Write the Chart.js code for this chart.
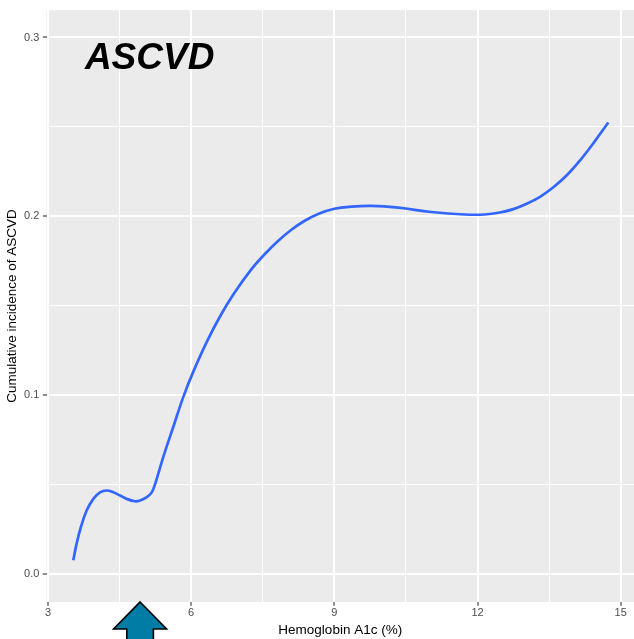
<!DOCTYPE html>
<html>
<head>
<meta charset="utf-8">
<script src="https://cdn.jsdelivr.net/npm/chart.js@4.4.1/dist/chart.umd.min.js"></script>
<style>
  body { margin: 0; background: #ffffff; }
  #wrap { width: 634px; height: 639px; position: relative; }
</style>
</head>
<body>
<div id="wrap"><canvas id="ascvdChart"></canvas></div>
<script>
// smoothed curve
const hba1c = [3.53, 3.6, 3.69, 3.81, 3.95, 4.09, 4.23, 4.37, 4.51, 4.65, 4.82, 4.93, 5.07, 5.17, 5.24, 5.31, 5.42, 5.63, 5.84, 6.05, 6.33, 6.61, 6.89, 7.26, 7.54, 7.82, 8.1, 8.38, 8.66, 9.0, 9.36, 9.78, 10.34, 11.03, 11.73, 12.15, 12.47, 12.75, 13.03, 13.31, 13.59, 13.87, 14.15, 14.43, 14.74];
const incidence = [0.0079, 0.0172, 0.0265, 0.0357, 0.0422, 0.0459, 0.0469, 0.0459, 0.0441, 0.0422, 0.0409, 0.0413, 0.0432, 0.0457, 0.0502, 0.0562, 0.066, 0.0828, 0.0995, 0.1136, 0.1301, 0.1444, 0.1567, 0.1704, 0.1789, 0.1863, 0.1926, 0.1976, 0.2014, 0.2043, 0.2055, 0.2059, 0.2049, 0.2025, 0.2011, 0.2011, 0.2022, 0.2041, 0.2071, 0.211, 0.2163, 0.223, 0.2314, 0.241, 0.2525];

const xMajor = [3, 6, 9, 12, 15];
const xMinor = [4.5, 7.5, 10.5, 13.5];
const yMajor = [0, 0.1, 0.2, 0.3];
const yMinor = [0.05, 0.15, 0.25];

const arrowAt = 4.93;
const panelTitle = "ASCVD";

const FONT = "'Liberation Sans', Arial, sans-serif";

const panelBackground = {
  id: "panelBackground",
  beforeDraw(chart) {
    const { ctx, chartArea } = chart;
    ctx.save();
    ctx.fillStyle = "#EBEBEB";
    ctx.fillRect(chartArea.left, chartArea.top, chartArea.right - chartArea.left, chartArea.bottom - chartArea.top);
    ctx.restore();
  },
};

const annotations = {
  id: "annotations",
  afterDraw(chart) {
    const { ctx, chartArea, scales } = chart;

    // panel title
    ctx.save();
    ctx.font = "italic bold 37px " + FONT;
    ctx.fillStyle = "#000000";
    ctx.textAlign = "center";
    ctx.textBaseline = "alphabetic";
    ctx.fillText(panelTitle, scales.x.getPixelForValue(5.13), scales.y.getPixelForValue(0.2823));
    ctx.restore();

    // arrow under the axis
    const tx = scales.x.getPixelForValue(arrowAt);
    const ty = chartArea.bottom;
    ctx.save();
    ctx.beginPath();
    ctx.moveTo(tx, ty);
    ctx.lineTo(tx + 26.5, ty + 27);
    ctx.lineTo(tx + 13.3, ty + 27);
    ctx.lineTo(tx + 13.3, ty + 60);
    ctx.lineTo(tx - 13.3, ty + 60);
    ctx.lineTo(tx - 13.3, ty + 27);
    ctx.lineTo(tx - 26.5, ty + 27);
    ctx.closePath();
    ctx.fillStyle = "#007CA5";
    ctx.fill();
    ctx.lineWidth = 1.6;
    ctx.strokeStyle = "#000000";
    ctx.lineJoin = "miter";
    ctx.stroke();
    ctx.restore();
  },
};

function gridWidth(majors) {
  return (context) => (context.tick && majors.includes(context.tick.value) ? 2 : 1);
}

function tickColour(majors) {
  return (context) => (context.tick && majors.includes(context.tick.value) ? "#333333" : "rgba(0,0,0,0)");
}

const chartCanvas = document.getElementById("ascvdChart");

new Chart(chartCanvas, {
  type: "line",
  data: {
    datasets: [
      {
        data: hba1c.map((x, i) => ({ x: x, y: incidence[i] })),
        borderColor: "#3366FF",
        borderWidth: 2.7,
        pointRadius: 0,
        fill: false,
        tension: 0.4,
      },
    ],
  },
  options: {
    responsive: true,
    maintainAspectRatio: false,
    animation: false,
    layout: { padding: { top: 7, right: 0, left: 0, bottom: 0 } },
    plugins: {
      legend: { display: false },
      tooltip: { enabled: false },
    },
    scales: {
      x: {
        type: "linear",
        min: 2.969,
        max: 15.279,
        afterBuildTicks: (scale) => {
          scale.ticks = xMajor.concat(xMinor).sort((a, b) => a - b).map((v) => ({ value: v }));
        },
        afterFit: (scale) => {
          scale.height = 37;
        },
        border: { display: false },
        grid: {
          color: "#FFFFFF",
          lineWidth: gridWidth(xMajor),
          tickLength: 3.7,
          tickWidth: 1.1,
          tickColor: tickColour(xMajor),
        },
        ticks: {
          autoSkip: false,
          maxRotation: 0,
          padding: 1,
          color: "#4D4D4D",
          font: { family: FONT, size: 11 },
          callback: (value) => (xMajor.includes(value) ? String(value) : ""),
        },
        title: {
          display: true,
          text: "Hemoglobin A1c (%)",
          color: "#000000",
          font: { family: FONT, size: 13.5 },
          padding: { top: 0, bottom: 1 },
        },
      },
      y: {
        type: "linear",
        min: -0.0154,
        max: 0.3153,
        afterBuildTicks: (scale) => {
          scale.ticks = yMajor.concat(yMinor).sort((a, b) => a - b).map((v) => ({ value: v }));
        },
        afterFit: (scale) => {
          scale.width = 46.5;
        },
        border: { display: false },
        grid: {
          color: "#FFFFFF",
          lineWidth: gridWidth(yMajor),
          tickLength: 3.7,
          tickWidth: 1.1,
          tickColor: tickColour(yMajor),
        },
        ticks: {
          autoSkip: false,
          padding: 3.5,
          color: "#4D4D4D",
          font: { family: FONT, size: 11 },
          callback: (value) => (yMajor.includes(value) ? value.toFixed(1) : ""),
        },
        title: {
          display: true,
          text: "Cumulative incidence of ASCVD",
          color: "#000000",
          font: { family: FONT, size: 13.5 },
          padding: { top: 4.4, bottom: 0 },
        },
      },
    },
  },
  plugins: [panelBackground, annotations],
});
</script>
</body>
</html>
